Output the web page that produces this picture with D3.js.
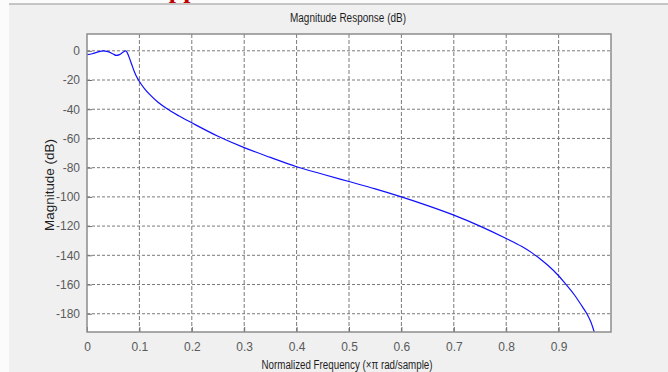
<!DOCTYPE html>
<html>
<head>
<meta charset="utf-8">
<script src="https://cdn.jsdelivr.net/npm/d3@7"></script>
<style>
    body { margin: 0; background: #fbfbfb; }
    #container { width: 668px; height: 372px; }
    .tick text { font-family: "Liberation Sans Narrow", "Arial Narrow", sans-serif; font-size: 12px; fill: #5a5a5a; }
</style>
</head>
<body>
<div id="container"></div>
<script>
// magnitude response
const freq = [0, 0.01, 0.02, 0.031, 0.04, 0.05, 0.056, 0.062, 0.068, 0.074, 0.08, 0.085, 0.09, 0.095, 0.1,
    0.11, 0.12, 0.135, 0.15, 0.175, 0.2, 0.25, 0.3, 0.35, 0.4, 0.45, 0.5, 0.55, 0.6, 0.65, 0.7, 0.75,
    0.8, 0.83, 0.85, 0.865, 0.88, 0.9, 0.912, 0.93, 0.945, 0.954, 0.962, 0.968];
const magDb = [-2.6, -2.0, -0.9, 0, -0.6, -2.2, -3.2, -2.6, -1.2, 0, -4, -9, -14, -18, -21,
    -26, -30, -35, -39, -44.5, -49.3, -58.5, -66.3, -73, -79.4, -84.5, -89.5, -94.5, -100, -106, -112.5, -120,
    -128.5, -134, -138.5, -142.5, -147, -154, -159, -167, -175, -180, -186, -192.5];

const xTicks = [0, 0.1, 0.2, 0.3, 0.4, 0.5, 0.6, 0.7, 0.8, 0.9];
const yTicks = [0, -20, -40, -60, -80, -100, -120, -140, -160, -180];
const xDomain = [0, 1];
const yDomain = [-192.5, 11.5];

document.addEventListener("DOMContentLoaded", function () {

    const width = 668;
    const height = 372;
    const plot = { left: 87, top: 34, right: 611, bottom: 332 };

    const svg = d3.select("#container").append("svg")
        .attr("width", width)
        .attr("height", height);

    //---------------------------BACKGROUND--------------------------//

    svg.append("rect")
        .attr("x", 9).attr("y", 4)
        .attr("width", width - 9).attr("height", height - 4)
        .attr("fill", "#f0f0f0");

    svg.append("line")
        .attr("x1", 9).attr("x2", width)
        .attr("y1", 4).attr("y2", 4)
        .attr("stroke", "#b4b4b4")
        .attr("stroke-width", 1.5);

    // red header text cut off by the top edge, as in the source picture
    svg.append("text")
        .attr("x", 150).attr("y", -2)
        .attr("font-family", "Liberation Serif, serif")
        .attr("font-weight", "bold")
        .attr("font-size", 26)
        .attr("fill", "#c00000")
        .text("App");

    svg.append("rect")
        .attr("x", plot.left).attr("y", plot.top)
        .attr("width", plot.right - plot.left)
        .attr("height", plot.bottom - plot.top)
        .attr("fill", "#ffffff");

    //-----------------------------SCALES----------------------------//

    const xScale = d3.scaleLinear().domain(xDomain).range([plot.left, plot.right]);
    const yScale = d3.scaleLinear().domain(yDomain).range([plot.bottom, plot.top]);

    //------------------------------GRID-----------------------------//

    svg.append("g")
        .selectAll("line")
        .data(xTicks.slice(1))
        .enter().append("line")
        .attr("x1", d => xScale(d)).attr("x2", d => xScale(d))
        .attr("y1", plot.top).attr("y2", plot.bottom)
        .attr("stroke", "#7a7a7a")
        .attr("stroke-dasharray", "4,2");

    svg.append("g")
        .selectAll("line")
        .data(yTicks)
        .enter().append("line")
        .attr("x1", plot.left).attr("x2", plot.right)
        .attr("y1", d => yScale(d)).attr("y2", d => yScale(d))
        .attr("stroke", "#7a7a7a")
        .attr("stroke-dasharray", "3,2");

    //------------------------------AXES-----------------------------//

    const xaxis = d3.axisBottom(xScale)
        .tickValues(xTicks)
        .tickFormat(d3.format("~g"))
        .tickSizeInner(-5)
        .tickSizeOuter(0)
        .tickPadding(10);

    const yaxis = d3.axisLeft(yScale)
        .tickValues(yTicks)
        .tickFormat(d => d)
        .tickSizeInner(-5)
        .tickSizeOuter(0)
        .tickPadding(7);

    const gx = svg.append("g")
        .attr("transform", "translate(0," + plot.bottom + ")")
        .call(xaxis);
    gx.select(".domain").remove();
    gx.selectAll(".tick line").attr("stroke", "#6e6e6e");

    const gy = svg.append("g")
        .attr("transform", "translate(" + plot.left + ",0)")
        .call(yaxis);
    gy.select(".domain").remove();
    gy.selectAll(".tick line").attr("stroke", "#6e6e6e");

    //------------------------------LINE-----------------------------//

    const line = d3.line()
        .x((d, i) => xScale(freq[i]))
        .y(d => yScale(d))
        .curve(d3.curveMonotoneX);

    svg.append("defs").append("clipPath").attr("id", "clip")
        .append("rect")
        .attr("x", plot.left).attr("y", plot.top)
        .attr("width", plot.right - plot.left)
        .attr("height", plot.bottom - plot.top);

    svg.append("path")
        .attr("clip-path", "url(#clip)")
        .attr("d", line(magDb))
        .attr("fill", "none")
        .attr("stroke", "#1010ff")
        .attr("stroke-width", 1.2);

    // box
    svg.append("rect")
        .attr("x", plot.left).attr("y", plot.top)
        .attr("width", plot.right - plot.left)
        .attr("height", plot.bottom - plot.top)
        .attr("fill", "none")
        .attr("stroke", "#8c8c8c")
        .attr("stroke-width", 1.5);

    //-----------------------------LABELS----------------------------//

    svg.append("text")
        .attr("x", 348).attr("y", 22)
        .attr("text-anchor", "middle")
        .attr("font-family", "Liberation Sans Narrow, Arial Narrow, sans-serif")
        .attr("font-size", 12)
        .attr("fill", "#1e1e1e")
        .attr("textLength", 116)
        .attr("lengthAdjust", "spacingAndGlyphs")
        .text("Magnitude Response (dB)");

    svg.append("text")
        .attr("x", 347).attr("y", 369)
        .attr("text-anchor", "middle")
        .attr("font-family", "Liberation Sans Narrow, Arial Narrow, sans-serif")
        .attr("font-size", 12)
        .attr("fill", "#1e1e1e")
        .attr("textLength", 171)
        .attr("lengthAdjust", "spacingAndGlyphs")
        .text("Normalized Frequency (×π rad/sample)");

    svg.append("text")
        .attr("transform", "translate(54,185) rotate(-90)")
        .attr("text-anchor", "middle")
        .attr("font-family", "Liberation Sans, Arial, sans-serif")
        .attr("font-size", 12)
        .attr("fill", "#1e1e1e")
        .attr("textLength", 92)
        .attr("lengthAdjust", "spacingAndGlyphs")
        .text("Magnitude (dB)");
});
</script>
</body>
</html>
